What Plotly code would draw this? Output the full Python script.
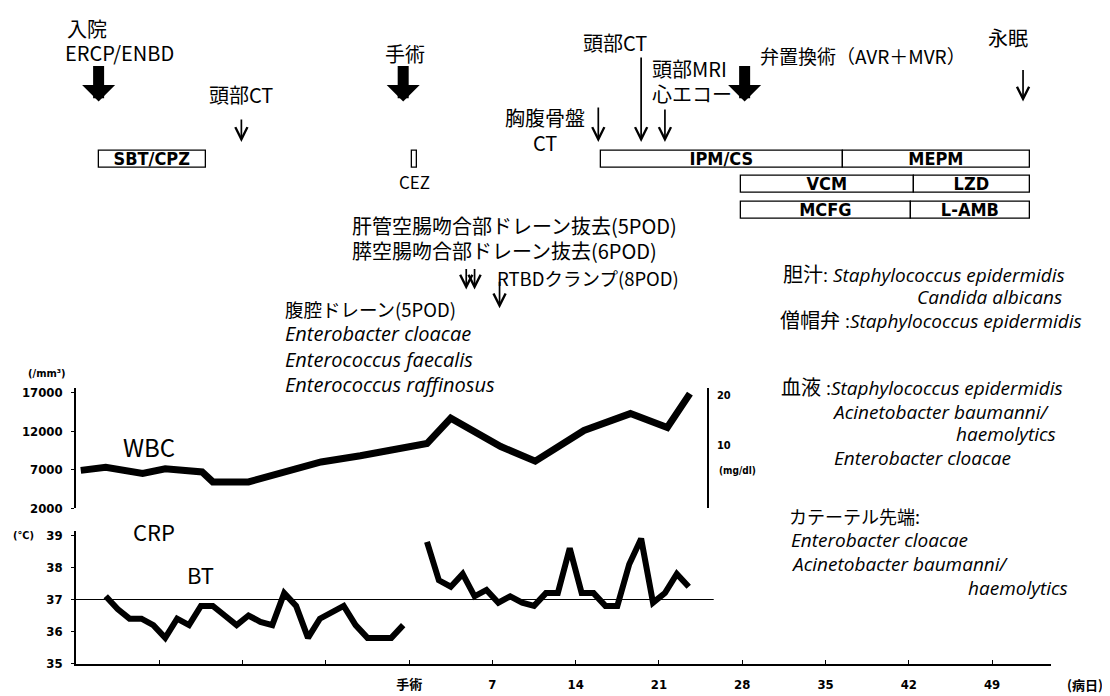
import plotly.graph_objects as go

W, H = 1110, 696

# ---------------- data ----------------
# WBC (/mm3) by day relative to surgery (0 = 手術)
WBC_DAYS = [-27.6, -25.5, -22.4, -20.5, -17.4, -16.5, -13.5, -10.7, -7.4, -4.1,
            1.5, 3.5, 7.7, 10.6, 14.7, 18.6, 21.7, 23.6]
WBC_VALUES = [6900, 7300, 6500, 7100, 6700, 5400, 5400, 6600, 8000, 8800,
              10400, 13700, 10000, 8100, 12100, 14300, 12500, 16900]

# Body temperature (℃) before surgery
BT_DAYS_PRE = [-25.5, -24.5, -23.5, -22.5, -21.5, -20.5, -19.5, -18.5, -17.5, -16.5,
               -15.5, -14.5, -13.5, -12.5, -11.5, -10.5, -9.5, -8.5, -7.5, -6.5,
               -5.5, -4.5, -3.5, -2.5, -1.5, -0.5]
BT_PRE = [37.1, 36.7, 36.4, 36.4, 36.2, 35.8, 36.4, 36.2, 36.8, 36.8,
          36.5, 36.2, 36.5, 36.3, 36.2, 37.2, 36.8, 35.8, 36.4, 36.6,
          36.8, 36.2, 35.8, 35.8, 35.8, 36.2]
# Body temperature (℃) after surgery
BT_DAYS_POST = [1.5, 2.5, 3.5, 4.5, 5.5, 6.5, 7.5, 8.5, 9.5, 10.5, 11.5, 12.5,
                13.5, 14.5, 15.5, 16.5, 17.5, 18.5, 19.5, 20.5, 21.5, 22.5, 23.5]
BT_POST = [38.8, 37.6, 37.4, 37.8, 37.1, 37.3, 36.9, 37.1, 36.9, 36.8, 37.2, 37.2,
           38.6, 37.2, 37.2, 36.8, 36.8, 38.1, 38.9, 36.9, 37.2, 37.8, 37.4]
BT_REF = 37

# CRP (mg/dl): axis only, no values drawn in the reference
CRP_DAYS = []
CRP_VALUES = []

# Antimicrobial therapy periods (days)
DRUGS = ["SBT/CPZ", "CEZ", "IPM/CS", "MEPM", "VCM", "LZD", "MCFG", "L-AMB"]
DRUG_START = [-26.1, 0.2, 16.1, 36.5, 27.9, 42.4, 27.9, 42.2]
DRUG_END = [-17.1, 0.7, 36.5, 52.2, 42.4, 52.2, 42.2, 52.2]
DRUG_ROW = [0, 0, 0, 0, 1, 1, 2, 2]

# Event arrows (day, thick?)
EVENT_DAYS = [-26.1, -14.1, -0.5, 15.9, 19.5, 21.5, 28.2, 51.6, 4.8, 5.5, 7.6]
EVENT_THICK = [True, False, True, False, False, False, True, False, False, False, False]

X_TICKS = [-21, -14, -7, 0, 7, 14, 21, 28, 35, 42, 49]
X_TICK_TEXT = ["", "", "", "手術", "7", "14", "21", "28", "35", "42", "49"]
WBC_TICKS = [2000, 7000, 12000, 17000]
WBC_TICK_TEXT = ["2000", "7000", "12000", "17000"]
BT_TICKS = [35, 36, 37, 38, 39]
CRP_TICKS = [10, 20]


def px(x):
    return x / W


def py(y):
    return 1 - y / H


JP = "Noto Sans CJK JP"
NUM = "DejaVu Sans Condensed, Noto Sans CJK JP, sans-serif"
IT = "Open Sans, Noto Sans CJK JP"

fig = go.Figure()

fig.add_trace(go.Scatter(x=WBC_DAYS, y=WBC_VALUES, mode="lines", xaxis="x", yaxis="y",
                         line=dict(color="black", width=7), name="WBC"))
fig.add_trace(go.Scatter(x=BT_DAYS_PRE, y=BT_PRE, mode="lines", xaxis="x", yaxis="y2",
                         line=dict(color="black", width=6), name="BT"))
fig.add_trace(go.Scatter(x=BT_DAYS_POST, y=BT_POST, mode="lines", xaxis="x", yaxis="y2",
                         line=dict(color="black", width=6), name="BT"))
fig.add_trace(go.Scatter(x=CRP_DAYS, y=CRP_VALUES, mode="lines", xaxis="x", yaxis="y3",
                         line=dict(color="black", width=6), name="CRP"))

fig.add_trace(go.Bar(
    y=DRUG_ROW, x=[e - s for s, e in zip(DRUG_START, DRUG_END)], base=DRUG_START,
    orientation="h", xaxis="x", yaxis="y4", width=0.68,
    marker=dict(color="white", line=dict(color="black", width=1.3)),
    text=[d if d != "CEZ" else "" for d in DRUGS], textposition="inside",
    insidetextanchor="middle", constraintext="none",
    textfont=dict(family="Liberation Sans Narrow, DejaVu Sans Condensed, Arial Narrow, sans-serif",
                  size=18, color="black", weight="bold"),
    hoverinfo="skip"))

fig.add_shape(type="line", xref="x", yref="y2", x0=-28, x1=25.6, y0=BT_REF, y1=BT_REF,
              line=dict(color="black", width=1.2))

ann = []


def txt(s, x, y, size=20, anchor="left", family=JP, weight="normal"):
    ann.append(dict(text=s, x=px(x), y=py(y), xref="paper", yref="paper", showarrow=False,
                    xanchor=anchor, yanchor="middle",
                    font=dict(family=family, size=size, color="black", weight=weight)))


# arrows
tips = [92, 133, 92, 133, 133, 133, 92, 92, 283, 283, 302]
tails = [56, 110, 56, 98, 48, 100, 56, 60, 262, 262, 275]
for d, thick, t0, t1 in zip(EVENT_DAYS, EVENT_THICK, tips, tails):
    common = dict(x=d, y=py(t0), xref="x", yref="paper", ax=0, ay=-(t0 - t1),
                  axref="pixel", ayref="pixel", text="", showarrow=True,
                  arrowcolor="black", font=dict(size=1), borderpad=0)
    if thick:
        ann.append(dict(arrowhead=1, arrowwidth=11, arrowsize=0.5, **common))
    else:
        ann.append(dict(arrowhead=5, arrowwidth=1.7, arrowsize=1.4, **common))

# top labels
txt("入院", 57, 18)
txt("ERCP/ENBD", 55, 42)
txt("頭部CT", 233, 85, anchor="center")
txt("手術", 397, 43, anchor="center")
txt("胸腹骨盤", 537, 108, anchor="center")
txt("CT", 537, 134, anchor="center")
txt("頭部CT", 607, 32, anchor="center")
txt("頭部MRI", 642, 58)
txt("心エコー", 642, 84)
txt("弁置換術（AVR＋MVR）", 750, 45, size=19)
txt("永眠", 1000, 27, anchor="center")
txt("CEZ", 406, 173, size=17, anchor="center")

# middle labels
txt("肝管空腸吻合部ドレーン抜去(5POD)", 342, 218)
txt("膵空腸吻合部ドレーン抜去(6POD)", 342, 243)
txt("RTBDクランプ(8POD)", 487, 271, size=18.5)
txt("腹腔ドレーン(5POD)", 275, 303, size=18.5)
txt("<i>Enterobacter cloacae</i>", 275, 328, size=20, family=IT)
txt("<i>Enterococcus faecalis</i>", 275, 354, size=20, family=IT)
txt("<i>Enterococcus raffinosus</i>", 275, 380, size=20, family=IT)

# series labels
txt("WBC", 141, 443, size=24, anchor="center")
txt("CRP", 146, 528, size=22, anchor="center")
txt("BT", 192, 572, size=22, anchor="center")

# unit labels
txt("(/mm³)", 39, 368, size=11, anchor="center", family=NUM, weight="bold")
txt("(℃)", 15, 533, size=11, anchor="center", family=NUM, weight="bold")
txt("(mg/dl)", 709, 467, size=10, family=NUM, weight="bold")
txt("(病日)", 1057, 684, size=13, family=JP, weight="bold")

# culture results
J = '<span style="font-size:20px">'
txt(J + "胆汁</span>: <i>Staphylococcus epidermidis</i>", 773, 268, size=19, family=IT)
txt("<i>Candida albicans</i>", 1056, 291, size=19, anchor="right", family=IT)
txt(J + "僧帽弁</span> :<i>Staphylococcus epidermidis</i>", 770, 314, size=19, family=IT)
txt(J + "血液</span> :<i>Staphylococcus epidermidis</i>", 771, 383, size=19, family=IT)
txt("<i>Acinetobacter baumanni/</i>", 822, 407, size=19, family=IT)
txt("<i>haemolytics</i>", 1050, 430, size=19, anchor="right", family=IT)
txt("<i>Enterobacter cloacae</i>", 824, 454, size=19, family=IT)
txt("カテーテル先端:", 779, 513, size=18)
txt("<i>Enterobacter cloacae</i>", 781, 537, size=19, family=IT)
txt("<i>Acinetobacter baumanni/</i>", 781, 562, size=19, family=IT)
txt("<i>haemolytics</i>", 1062, 586, size=19, anchor="right", family=IT)

axis_common = dict(showgrid=False, zeroline=False, showline=True, linecolor="black",
                   linewidth=1.5, tickcolor="black")
tickf = dict(family=NUM, size=13, color="black", weight="bold")

fig.update_layout(
    width=W, height=H, margin=dict(l=0, r=0, t=0, b=0),
    paper_bgcolor="white", plot_bgcolor="rgba(0,0,0,0)", showlegend=False,
    annotations=ann,
    xaxis=dict(domain=[px(68), px(1043)], range=[-28, 53.95], anchor="y2",
               ticks="inside", ticklen=4, tickvals=X_TICKS, ticktext=X_TICK_TEXT,
               tickfont=dict(family=NUM, size=13, color="black", weight="bold"),
               ticklabelstandoff=8, **axis_common),
    yaxis=dict(domain=[py(505), py(383)], range=[2000, 17640], anchor="x",
               ticks="outside", ticklen=3, tickvals=WBC_TICKS, ticktext=WBC_TICK_TEXT,
               tickfont=tickf, ticklabelstandoff=6, **axis_common),
    yaxis2=dict(domain=[py(663), py(528)], range=[35, 39.15], anchor="x",
                ticks="outside", ticklen=3, tickvals=BT_TICKS, tickfont=tickf,
                ticklabelstandoff=6, **axis_common),
    yaxis3=dict(range=[-2.55, 21.37], anchor="free", position=px(700), side="right",
                overlaying="y", ticks="", tickvals=CRP_TICKS,
                tickfont=dict(family=NUM, size=11, color="black", weight="bold"),
                ticklabelstandoff=6, **axis_common),
    yaxis4=dict(domain=[py(215), py(138)], range=[2.5, -0.5], visible=False),
    bargap=0,
)

fig.write_html("out.html")
